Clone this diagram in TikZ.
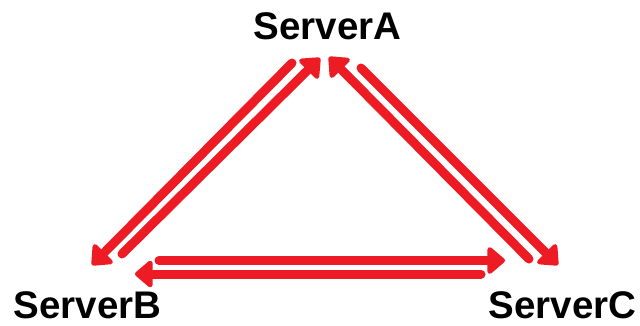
\documentclass[tikz,border=0pt]{standalone}
\usepackage{fontspec}
\setmainfont{Liberation Sans}
\usetikzlibrary{arrows.meta}
\definecolor{paintred}{RGB}{237,28,36}
\tikzset{
  label/.style={font=\fontsize{38.5}{42}\selectfont\bfseries, inner sep=0pt, anchor=base},
  link/.style={draw=paintred, line width=9pt, line cap=round,
    -{Triangle[length=19pt,width=31pt,round]}}
}
\begin{document}
\begin{tikzpicture}[x=1pt,y=-1pt]
\useasboundingbox[fill=white] (0,0) rectangle (640,325);
\node[label] (A) at (327.5,39.5) {ServerA};
\node[label] (B) at (87.5,318.5) {ServerB};
\node[label] (C) at (562.5,318.5) {ServerC};
% end points of the parallel connectors
\coordinate (ba0) at (122,254);  \coordinate (ba1) at (320,58);
\coordinate (ab0) at (292,63);   \coordinate (ab1) at (92,265);
\coordinate (ca0) at (529,259);  \coordinate (ca1) at (329,57);
\coordinate (ac0) at (361,68);   \coordinate (ac1) at (558,265);
\coordinate (bc0) at (159,260.5); \coordinate (bc1) at (505,260.5);
\coordinate (cb0) at (481,274);  \coordinate (cb1) at (135,274);
\draw[link] (ba0) -- (ba1);
\draw[link] (ab0) -- (ab1);
\draw[link] (ca0) -- (ca1);
\draw[link] (ac0) -- (ac1);
\draw[link] (bc0) -- (bc1);
\draw[link] (cb0) -- (cb1);
\end{tikzpicture}
\end{document}
